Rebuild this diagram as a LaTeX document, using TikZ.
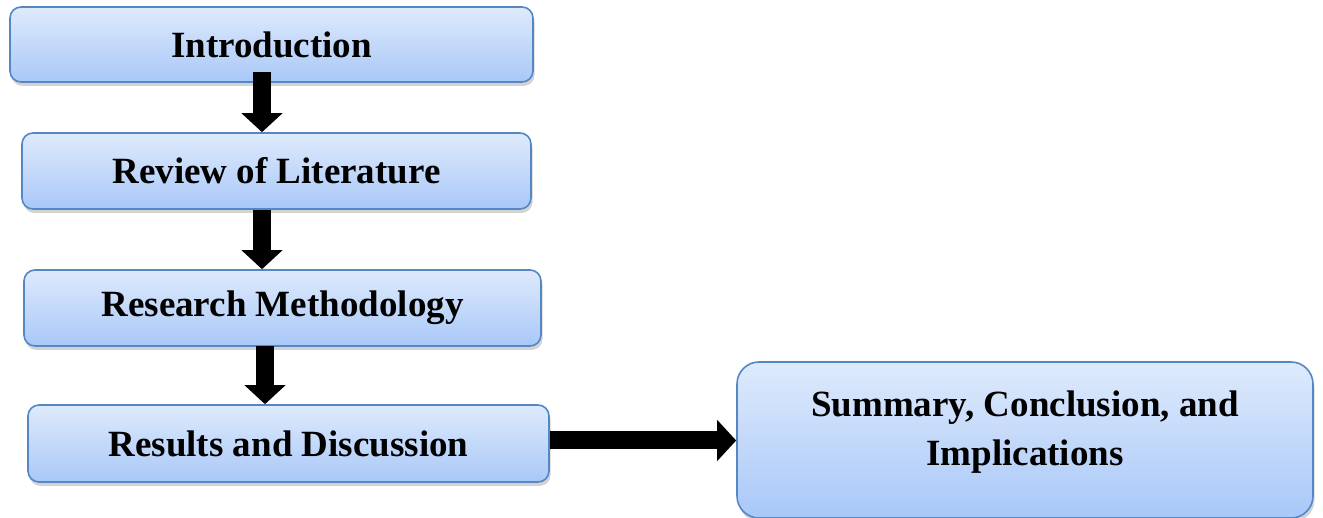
\documentclass[tikz,border=0pt]{standalone}
\usepackage{fontspec}
\setmainfont{Liberation Serif}
\usepackage{tikz}
\usetikzlibrary{arrows.meta}
\usetikzlibrary{shadows}
\usetikzlibrary{positioning}
\definecolor{boxtop}{HTML}{DEEAFC}
\definecolor{boxbot}{HTML}{A9C8F8}
\definecolor{boxline}{HTML}{5587C4}
\tikzstyle{stage} = [rectangle, rounded corners=11pt, draw=boxline, line width=1.6pt, top color=boxtop, bottom color=boxbot, drop shadow={shadow xshift=1.5pt, shadow yshift=-4pt, opacity=0.35}, align=center, font=\bfseries\fontsize{37}{49}\selectfont, inner sep=0pt]
\tikzstyle{caption} = [align=center, font=\bfseries\fontsize{37}{49}\selectfont, inner sep=0pt]
\tikzstyle{arrow} = [line width=18pt, -{Triangle[width=40pt, length=19pt]}]

\begin{document}
\begin{tikzpicture}[x=1pt, y=-1pt]

  \useasboundingbox (0,0) rectangle (1323,518);

  % the chain of chapters
  \node[stage, minimum width=523pt, minimum height=75pt] (intro) at (271.5,44.5) {Introduction};
  \node[stage, minimum width=509pt, minimum height=76pt] (review) at (276.5,171) {Review of Literature};
  \node[stage, minimum width=517pt, minimum height=76pt] (method) at (282.5,308) {Research Methodology};
  \node[stage, minimum width=521pt, minimum height=77pt] (results) at (288.5,443.5) {Results and Discussion};
  \node[stage, rounded corners=22pt, minimum width=576pt, minimum height=156pt] (summary) at (1025,440) {};
  \node[caption] (summarytext) at ([yshift=8pt]summary.center) {Summary, Conclusion, and\\Implications};

  \draw[arrow] ([xshift=-9.5pt, yshift=11pt]intro.south) -- ([xshift=-9.5pt]intro.south |- review.north);
  \draw[arrow] ([xshift=-14.5pt]review.south) -- ([xshift=-14.5pt]review.south |- method.north);
  \draw[arrow] ([xshift=-17.5pt, yshift=1pt]method.south) -- ([xshift=-17.5pt]method.south |- results.north);
  \draw[arrow] ([yshift=3pt]results.east) -- ([yshift=3pt]results.east -| summary.west);

\end{tikzpicture}
\end{document}
